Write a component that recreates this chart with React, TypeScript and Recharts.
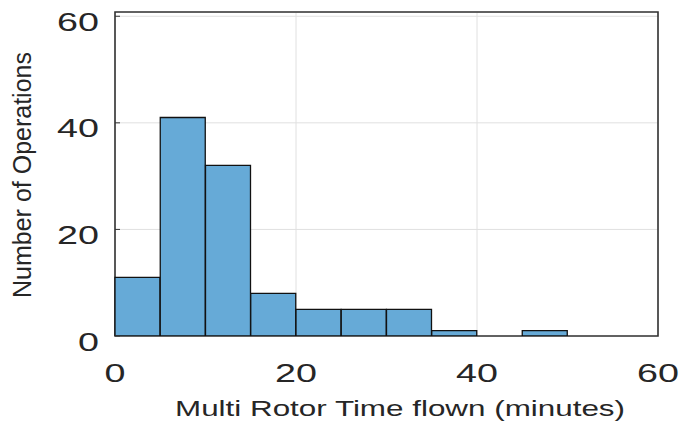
import { BarChart, Bar, XAxis, YAxis, CartesianGrid, ReferenceArea } from 'recharts'

// histogram bins, 5 minute wide
const binLabels = ['0-5', '5-10', '10-15', '15-20', '20-25', '25-30', '30-35', '35-40', '40-45', '45-50', '50-55', '55-60']
const binStarts = [0, 5, 10, 15, 20, 25, 30, 35, 40, 45, 50, 55]
const operations = [11, 41, 32, 8, 5, 5, 5, 1, 0, 1, 0, 0]

const xTicks = [0, 20, 40, 60]
const yTicks = [0, 20, 40, 60]

const data = binLabels.map((bin, i) => ({ bin, start: binStarts[i], count: operations[i] }))

const FONT = '"Liberation Sans", Arial, Helvetica, sans-serif'
const INK = '#262626'
const AXIS = '#333'

const YTick = ({ y, payload }: any) => (
  <text
    transform={`translate(99, ${y + 14.5}) scale(1.45, 1)`}
    textAnchor="end"
    fontSize={26}
    fontFamily={FONT}
    fill={INK}
  >
    {payload.value}
  </text>
)

const XTick = ({ x, payload }: any) => (
  <text
    transform={`translate(${x}, 382) scale(1.45, 1)`}
    textAnchor="middle"
    fontSize={26}
    fontFamily={FONT}
    fill={INK}
  >
    {payload.value}
  </text>
)

const XLabel = () => (
  <text
    x={400}
    y={416}
    textAnchor="middle"
    fontSize={22}
    fontFamily={FONT}
    fill={INK}
    textLength={450}
    lengthAdjust="spacingAndGlyphs"
  >
    Multi Rotor Time flown (minutes)
  </text>
)

const YLabel = () => (
  <text
    transform="translate(31, 175) rotate(-90)"
    textAnchor="middle"
    fontSize={25}
    fontFamily={FONT}
    fill={INK}
    textLength={246}
    lengthAdjust="spacingAndGlyphs"
  >
    Number of Operations
  </text>
)

export default function App() {
  return (
    <div style={{ position: 'absolute', left: 0, top: 0, width: 681, height: 424, background: '#fff' }}>
      <BarChart
        width={681}
        height={424}
        data={data}
        margin={{ top: 12, right: 23, bottom: 0, left: 15 }}
        barCategoryGap={0}
        barGap={0}
      >
        <CartesianGrid xAxisId="num" yAxisId="left" stroke="#e0e0e0" strokeWidth={1} />
        <XAxis xAxisId="bins" dataKey="bin" hide />
        <XAxis
          xAxisId="num"
          dataKey="start"
          type="number"
          domain={[0, 60]}
          ticks={xTicks}
          allowDataOverflow
          height={88}
          axisLine={false}
          tickLine={false}
          tick={<XTick />}
          label={XLabel}
        />
        <YAxis
          yAxisId="left"
          type="number"
          domain={[0, 60.8]}
          ticks={yTicks}
          allowDataOverflow
          width={100}
          axisLine={false}
          stroke={AXIS}
          tickSize={-5}
          tick={<YTick />}
          label={YLabel}
        />
        <Bar
          xAxisId="bins"
          yAxisId="left"
          dataKey="count"
          fill="#66AAD7"
          stroke="#111"
          strokeWidth={1.3}
          isAnimationActive={false}
        />
        <ReferenceArea
          xAxisId="num"
          yAxisId="left"
          x1={0}
          x2={60}
          y1={0}
          y2={60.8}
          fill="none"
          fillOpacity={0}
          stroke={AXIS}
          strokeWidth={1.6}
          strokeOpacity={1}
          ifOverflow="visible"
        />
      </BarChart>
    </div>
  )
}
